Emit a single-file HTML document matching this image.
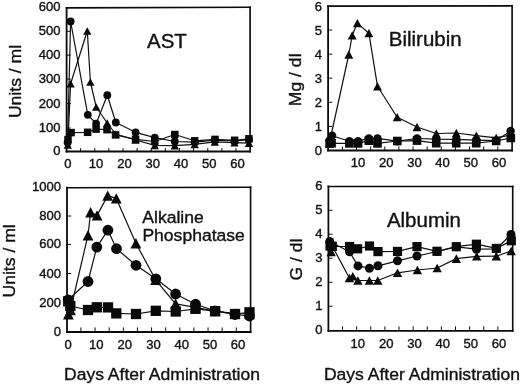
<!DOCTYPE html>
<html lang="en">
<head>
<meta charset="utf-8">
<title>Liver function tests after administration</title>
<style>
html,body{margin:0;padding:0;background:#fff;}
body{width:520px;height:385px;overflow:hidden;}
svg{display:block;}
svg text{font-family:"Liberation Sans", sans-serif;fill:#111;stroke:#111;stroke-width:0.36px;}
</style>
</head>
<body>
<svg width="520" height="385" viewBox="0 0 520 385">
<rect x="0" y="0" width="520" height="385" fill="#fff"/>
<line x1="80.62" y1="151.55" x2="80.62" y2="148.05" stroke="#111" stroke-width="1.0"/>
<line x1="94.75" y1="151.55" x2="94.75" y2="148.05" stroke="#111" stroke-width="1.0"/>
<line x1="108.88" y1="151.55" x2="108.88" y2="148.05" stroke="#111" stroke-width="1.0"/>
<line x1="123.00" y1="151.55" x2="123.00" y2="148.05" stroke="#111" stroke-width="1.0"/>
<line x1="137.12" y1="151.55" x2="137.12" y2="148.05" stroke="#111" stroke-width="1.0"/>
<line x1="151.25" y1="151.55" x2="151.25" y2="148.05" stroke="#111" stroke-width="1.0"/>
<line x1="165.38" y1="151.55" x2="165.38" y2="148.05" stroke="#111" stroke-width="1.0"/>
<line x1="179.50" y1="151.55" x2="179.50" y2="148.05" stroke="#111" stroke-width="1.0"/>
<line x1="193.62" y1="151.55" x2="193.62" y2="148.05" stroke="#111" stroke-width="1.0"/>
<line x1="207.75" y1="151.55" x2="207.75" y2="148.05" stroke="#111" stroke-width="1.0"/>
<line x1="221.88" y1="151.55" x2="221.88" y2="148.05" stroke="#111" stroke-width="1.0"/>
<line x1="236.00" y1="151.55" x2="236.00" y2="148.05" stroke="#111" stroke-width="1.0"/>
<line x1="66.60" y1="31.30" x2="70.80" y2="31.30" stroke="#111" stroke-width="1.0"/>
<line x1="66.60" y1="55.10" x2="70.80" y2="55.10" stroke="#111" stroke-width="1.0"/>
<line x1="66.60" y1="79.10" x2="70.80" y2="79.10" stroke="#111" stroke-width="1.0"/>
<line x1="66.60" y1="103.50" x2="70.80" y2="103.50" stroke="#111" stroke-width="1.0"/>
<line x1="66.60" y1="128.00" x2="70.80" y2="128.00" stroke="#111" stroke-width="1.0"/>
<polyline fill="none" stroke="#111" stroke-width="1.20" stroke-linejoin="round" points="67.80,145.00 70.60,83.70 87.30,31.00 90.40,82.00 96.20,107.00 107.20,123.00 115.70,134.00 135.60,140.00 154.80,145.40 174.80,145.60 194.70,144.40 214.80,141.90 234.50,142.60 249.00,143.10"/>
<polyline fill="none" stroke="#111" stroke-width="1.20" stroke-linejoin="round" points="67.60,142.50 70.60,21.50 87.80,114.80 96.10,123.70 107.30,95.20 115.80,122.50 135.60,132.30 154.80,137.70 174.80,141.50 194.70,142.20 214.80,140.20 234.50,140.90 249.00,139.60"/>
<polyline fill="none" stroke="#111" stroke-width="1.20" stroke-linejoin="round" points="68.00,139.60 71.10,132.60 87.60,132.30 96.10,129.10 107.00,129.70 115.60,134.90 135.60,139.30 154.80,141.50 174.80,134.50 194.70,140.80 215.00,139.40 234.60,140.30 248.90,138.80"/>
<g fill="#0a0a0a">
<path d="M67.80 141.20L71.95 148.80L63.65 148.80Z"/>
<path d="M70.60 79.90L74.75 87.50L66.45 87.50Z"/>
<path d="M87.30 27.20L91.45 34.80L83.15 34.80Z"/>
<path d="M90.40 78.20L94.55 85.80L86.25 85.80Z"/>
<path d="M96.20 103.20L100.35 110.80L92.05 110.80Z"/>
<path d="M107.20 119.20L111.35 126.80L103.05 126.80Z"/>
<path d="M115.70 130.20L119.85 137.80L111.55 137.80Z"/>
<path d="M135.60 136.20L139.75 143.80L131.45 143.80Z"/>
<path d="M154.80 141.60L158.95 149.20L150.65 149.20Z"/>
<path d="M174.80 141.80L178.95 149.40L170.65 149.40Z"/>
<path d="M194.70 140.60L198.85 148.20L190.55 148.20Z"/>
<path d="M214.80 138.10L218.95 145.70L210.65 145.70Z"/>
<path d="M234.50 138.80L238.65 146.40L230.35 146.40Z"/>
<path d="M249.00 139.30L253.15 146.90L244.85 146.90Z"/>
<circle cx="67.60" cy="142.50" r="3.90"/>
<circle cx="70.60" cy="21.50" r="3.90"/>
<circle cx="87.80" cy="114.80" r="3.90"/>
<circle cx="96.10" cy="123.70" r="3.90"/>
<circle cx="107.30" cy="95.20" r="3.90"/>
<circle cx="115.80" cy="122.50" r="3.90"/>
<circle cx="135.60" cy="132.30" r="3.90"/>
<circle cx="154.80" cy="137.70" r="3.90"/>
<circle cx="174.80" cy="141.50" r="3.90"/>
<circle cx="194.70" cy="142.20" r="3.90"/>
<circle cx="214.80" cy="140.20" r="3.90"/>
<circle cx="234.50" cy="140.90" r="3.90"/>
<circle cx="249.00" cy="139.60" r="3.90"/>
<rect x="64.25" y="135.85" width="7.50" height="7.50"/>
<rect x="67.35" y="128.85" width="7.50" height="7.50"/>
<rect x="83.85" y="128.55" width="7.50" height="7.50"/>
<rect x="92.35" y="125.35" width="7.50" height="7.50"/>
<rect x="103.25" y="125.95" width="7.50" height="7.50"/>
<rect x="111.85" y="131.15" width="7.50" height="7.50"/>
<rect x="131.85" y="135.55" width="7.50" height="7.50"/>
<rect x="151.05" y="137.75" width="7.50" height="7.50"/>
<rect x="171.05" y="130.75" width="7.50" height="7.50"/>
<rect x="190.95" y="137.05" width="7.50" height="7.50"/>
<rect x="211.25" y="135.65" width="7.50" height="7.50"/>
<rect x="230.85" y="136.55" width="7.50" height="7.50"/>
<rect x="245.15" y="135.05" width="7.50" height="7.50"/>
</g>
<g stroke="#0a0a0a" stroke-linecap="square" fill="none">
<line x1="66.60" y1="7.90" x2="250.10" y2="7.30" stroke-width="1.65"/>
<line x1="250.10" y1="7.30" x2="250.10" y2="151.55" stroke-width="1.65"/>
<line x1="66.60" y1="7.90" x2="66.60" y2="151.55" stroke-width="1.8"/>
<line x1="66.60" y1="151.55" x2="250.10" y2="151.55" stroke-width="1.95"/>
</g>
<text transform="translate(60.60 11.20) scale(1.045 1)" font-size="12.5" text-anchor="end">600</text>
<text transform="translate(60.60 35.30) scale(1.045 1)" font-size="12.5" text-anchor="end">500</text>
<text transform="translate(60.60 59.10) scale(1.045 1)" font-size="12.5" text-anchor="end">400</text>
<text transform="translate(60.60 83.10) scale(1.045 1)" font-size="12.5" text-anchor="end">300</text>
<text transform="translate(60.60 107.50) scale(1.045 1)" font-size="12.5" text-anchor="end">200</text>
<text transform="translate(60.60 132.00) scale(1.045 1)" font-size="12.5" text-anchor="end">100</text>
<text transform="translate(60.60 155.20) scale(1.045 1)" font-size="12.5" text-anchor="end">0</text>
<text transform="translate(67.90 168.20) scale(1.045 1)" font-size="12.5" text-anchor="middle">0</text>
<text transform="translate(96.00 168.20) scale(1.045 1)" font-size="12.5" text-anchor="middle">10</text>
<text transform="translate(124.40 168.20) scale(1.045 1)" font-size="12.5" text-anchor="middle">20</text>
<text transform="translate(152.70 168.20) scale(1.045 1)" font-size="12.5" text-anchor="middle">30</text>
<text transform="translate(181.00 168.20) scale(1.045 1)" font-size="12.5" text-anchor="middle">40</text>
<text transform="translate(209.30 168.20) scale(1.045 1)" font-size="12.5" text-anchor="middle">50</text>
<text transform="translate(237.60 168.20) scale(1.045 1)" font-size="12.5" text-anchor="middle">60</text>
<line x1="342.43" y1="150.40" x2="342.43" y2="146.40" stroke="#111" stroke-width="1.0"/>
<line x1="356.55" y1="150.40" x2="356.55" y2="146.40" stroke="#111" stroke-width="1.0"/>
<line x1="370.68" y1="150.40" x2="370.68" y2="146.40" stroke="#111" stroke-width="1.0"/>
<line x1="384.80" y1="150.40" x2="384.80" y2="146.40" stroke="#111" stroke-width="1.0"/>
<line x1="398.93" y1="150.40" x2="398.93" y2="146.40" stroke="#111" stroke-width="1.0"/>
<line x1="413.05" y1="150.40" x2="413.05" y2="146.40" stroke="#111" stroke-width="1.0"/>
<line x1="427.18" y1="150.40" x2="427.18" y2="146.40" stroke="#111" stroke-width="1.0"/>
<line x1="441.30" y1="150.40" x2="441.30" y2="146.40" stroke="#111" stroke-width="1.0"/>
<line x1="455.43" y1="150.40" x2="455.43" y2="146.40" stroke="#111" stroke-width="1.0"/>
<line x1="469.55" y1="150.40" x2="469.55" y2="146.40" stroke="#111" stroke-width="1.0"/>
<line x1="483.68" y1="150.40" x2="483.68" y2="146.40" stroke="#111" stroke-width="1.0"/>
<line x1="497.80" y1="150.40" x2="497.80" y2="146.40" stroke="#111" stroke-width="1.0"/>
<line x1="328.10" y1="30.00" x2="332.30" y2="30.00" stroke="#111" stroke-width="1.0"/>
<line x1="328.10" y1="54.20" x2="332.30" y2="54.20" stroke="#111" stroke-width="1.0"/>
<line x1="328.10" y1="78.20" x2="332.30" y2="78.20" stroke="#111" stroke-width="1.0"/>
<line x1="328.10" y1="102.30" x2="332.30" y2="102.30" stroke="#111" stroke-width="1.0"/>
<line x1="328.10" y1="126.40" x2="332.30" y2="126.40" stroke="#111" stroke-width="1.0"/>
<polyline fill="none" stroke="#111" stroke-width="1.20" stroke-linejoin="round" points="329.30,143.50 348.80,54.50 352.20,35.30 357.40,23.10 368.90,33.20 377.50,86.30 397.20,117.20 417.00,127.00 436.30,133.50 456.30,133.00 476.30,135.60 496.20,137.80 510.80,135.00"/>
<polyline fill="none" stroke="#111" stroke-width="1.20" stroke-linejoin="round" points="329.60,140.50 332.10,135.80 349.40,141.20 358.10,141.20 368.80,138.40 377.50,138.40 397.30,141.20 417.00,138.50 436.30,139.20 456.30,139.40 476.30,140.20 496.20,140.60 510.60,131.00"/>
<polyline fill="none" stroke="#111" stroke-width="1.20" stroke-linejoin="round" points="329.60,143.30 331.60,143.30 349.40,143.40 358.10,143.40 368.80,140.70 377.50,143.40 397.30,141.00 417.00,140.60 436.20,143.20 456.20,143.20 476.20,143.20 496.10,141.00 510.80,138.00"/>
<g fill="#0a0a0a">
<path d="M329.30 139.35L333.75 147.65L324.85 147.65Z"/>
<path d="M348.80 50.35L353.25 58.65L344.35 58.65Z"/>
<path d="M352.20 31.15L356.65 39.45L347.75 39.45Z"/>
<path d="M357.40 18.95L361.85 27.25L352.95 27.25Z"/>
<path d="M368.90 29.05L373.35 37.35L364.45 37.35Z"/>
<path d="M377.50 82.15L381.95 90.45L373.05 90.45Z"/>
<path d="M397.20 113.05L401.65 121.35L392.75 121.35Z"/>
<path d="M417.00 122.85L421.45 131.15L412.55 131.15Z"/>
<path d="M436.30 129.35L440.75 137.65L431.85 137.65Z"/>
<path d="M456.30 128.85L460.75 137.15L451.85 137.15Z"/>
<path d="M476.30 131.45L480.75 139.75L471.85 139.75Z"/>
<path d="M496.20 133.65L500.65 141.95L491.75 141.95Z"/>
<path d="M510.80 130.85L515.25 139.15L506.35 139.15Z"/>
<circle cx="329.60" cy="140.50" r="4.20"/>
<circle cx="332.10" cy="135.80" r="4.20"/>
<circle cx="349.40" cy="141.20" r="4.20"/>
<circle cx="358.10" cy="141.20" r="4.20"/>
<circle cx="368.80" cy="138.40" r="4.20"/>
<circle cx="377.50" cy="138.40" r="4.20"/>
<circle cx="397.30" cy="141.20" r="4.20"/>
<circle cx="417.00" cy="138.50" r="4.20"/>
<circle cx="436.30" cy="139.20" r="4.20"/>
<circle cx="456.30" cy="139.40" r="4.20"/>
<circle cx="476.30" cy="140.20" r="4.20"/>
<circle cx="496.20" cy="140.60" r="4.20"/>
<circle cx="510.60" cy="131.00" r="4.20"/>
<rect x="325.30" y="139.00" width="8.60" height="8.60"/>
<rect x="327.30" y="139.00" width="8.60" height="8.60"/>
<rect x="345.10" y="139.10" width="8.60" height="8.60"/>
<rect x="353.80" y="139.10" width="8.60" height="8.60"/>
<rect x="364.50" y="136.40" width="8.60" height="8.60"/>
<rect x="373.20" y="139.10" width="8.60" height="8.60"/>
<rect x="393.00" y="136.70" width="8.60" height="8.60"/>
<rect x="412.70" y="136.30" width="8.60" height="8.60"/>
<rect x="431.90" y="138.90" width="8.60" height="8.60"/>
<rect x="451.90" y="138.90" width="8.60" height="8.60"/>
<rect x="471.90" y="138.90" width="8.60" height="8.60"/>
<rect x="491.80" y="136.70" width="8.60" height="8.60"/>
<rect x="506.50" y="133.70" width="8.60" height="8.60"/>
</g>
<g stroke="#0a0a0a" stroke-linecap="square" fill="none">
<line x1="328.10" y1="6.10" x2="512.10" y2="5.80" stroke-width="1.65"/>
<line x1="512.10" y1="5.80" x2="512.10" y2="150.40" stroke-width="1.65"/>
<line x1="328.10" y1="6.10" x2="328.10" y2="150.40" stroke-width="1.8"/>
<line x1="328.10" y1="150.40" x2="512.10" y2="150.40" stroke-width="1.95"/>
</g>
<text transform="translate(322.10 10.70) scale(1.045 1)" font-size="12.5" text-anchor="end">6</text>
<text transform="translate(322.10 34.70) scale(1.045 1)" font-size="12.5" text-anchor="end">5</text>
<text transform="translate(322.10 58.90) scale(1.045 1)" font-size="12.5" text-anchor="end">4</text>
<text transform="translate(322.10 82.90) scale(1.045 1)" font-size="12.5" text-anchor="end">3</text>
<text transform="translate(322.10 107.00) scale(1.045 1)" font-size="12.5" text-anchor="end">2</text>
<text transform="translate(322.10 131.10) scale(1.045 1)" font-size="12.5" text-anchor="end">1</text>
<text transform="translate(322.10 154.70) scale(1.045 1)" font-size="12.5" text-anchor="end">0</text>
<text transform="translate(358.00 166.90) scale(1.045 1)" font-size="12.5" text-anchor="middle">10</text>
<text transform="translate(386.30 166.90) scale(1.045 1)" font-size="12.5" text-anchor="middle">20</text>
<text transform="translate(414.40 166.90) scale(1.045 1)" font-size="12.5" text-anchor="middle">30</text>
<text transform="translate(442.60 166.90) scale(1.045 1)" font-size="12.5" text-anchor="middle">40</text>
<text transform="translate(470.70 166.90) scale(1.045 1)" font-size="12.5" text-anchor="middle">50</text>
<text transform="translate(498.90 166.90) scale(1.045 1)" font-size="12.5" text-anchor="middle">60</text>
<line x1="80.92" y1="332.00" x2="80.92" y2="327.40" stroke="#111" stroke-width="1.0"/>
<line x1="95.05" y1="332.00" x2="95.05" y2="327.40" stroke="#111" stroke-width="1.0"/>
<line x1="109.17" y1="332.00" x2="109.17" y2="327.40" stroke="#111" stroke-width="1.0"/>
<line x1="123.30" y1="332.00" x2="123.30" y2="327.40" stroke="#111" stroke-width="1.0"/>
<line x1="137.43" y1="332.00" x2="137.43" y2="327.40" stroke="#111" stroke-width="1.0"/>
<line x1="151.55" y1="332.00" x2="151.55" y2="327.40" stroke="#111" stroke-width="1.0"/>
<line x1="165.68" y1="332.00" x2="165.68" y2="327.40" stroke="#111" stroke-width="1.0"/>
<line x1="179.80" y1="332.00" x2="179.80" y2="327.40" stroke="#111" stroke-width="1.0"/>
<line x1="193.93" y1="332.00" x2="193.93" y2="327.40" stroke="#111" stroke-width="1.0"/>
<line x1="208.05" y1="332.00" x2="208.05" y2="327.40" stroke="#111" stroke-width="1.0"/>
<line x1="222.18" y1="332.00" x2="222.18" y2="327.40" stroke="#111" stroke-width="1.0"/>
<line x1="236.30" y1="332.00" x2="236.30" y2="327.40" stroke="#111" stroke-width="1.0"/>
<line x1="67.00" y1="216.00" x2="71.20" y2="216.00" stroke="#111" stroke-width="1.0"/>
<line x1="67.00" y1="244.40" x2="71.20" y2="244.40" stroke="#111" stroke-width="1.0"/>
<line x1="67.00" y1="273.50" x2="71.20" y2="273.50" stroke="#111" stroke-width="1.0"/>
<line x1="67.00" y1="302.60" x2="71.20" y2="302.60" stroke="#111" stroke-width="1.0"/>
<polyline fill="none" stroke="#111" stroke-width="1.20" stroke-linejoin="round" points="68.40,314.20 70.50,310.00 88.00,235.20 90.60,212.20 97.10,215.40 107.70,195.60 116.30,198.40 135.90,243.30 155.60,279.80 175.60,303.80 195.50,307.30 215.00,311.00 235.00,313.50 249.50,314.00"/>
<polyline fill="none" stroke="#111" stroke-width="1.20" stroke-linejoin="round" points="68.30,299.80 88.00,281.50 96.80,247.10 107.90,230.20 116.50,248.70 136.00,265.30 155.80,278.80 175.60,294.00 195.50,304.20 215.00,310.80 235.00,314.50 249.50,316.00"/>
<polyline fill="none" stroke="#111" stroke-width="1.20" stroke-linejoin="round" points="68.20,301.30 70.30,306.00 88.00,310.00 96.80,307.30 108.00,307.40 116.30,313.40 136.00,314.00 155.80,310.80 175.70,311.50 195.50,308.80 215.20,311.20 235.00,314.00 249.50,312.30"/>
<g fill="#0a0a0a">
<path d="M68.40 309.00L73.80 319.40L63.00 319.40Z"/>
<path d="M70.50 304.80L75.90 315.20L65.10 315.20Z"/>
<path d="M88.00 230.00L93.40 240.40L82.60 240.40Z"/>
<path d="M90.60 207.00L96.00 217.40L85.20 217.40Z"/>
<path d="M97.10 210.20L102.50 220.60L91.70 220.60Z"/>
<path d="M107.70 190.40L113.10 200.80L102.30 200.80Z"/>
<path d="M116.30 193.20L121.70 203.60L110.90 203.60Z"/>
<path d="M135.90 238.10L141.30 248.50L130.50 248.50Z"/>
<path d="M155.60 274.60L161.00 285.00L150.20 285.00Z"/>
<path d="M175.60 298.60L181.00 309.00L170.20 309.00Z"/>
<path d="M195.50 302.10L200.90 312.50L190.10 312.50Z"/>
<path d="M215.00 305.80L220.40 316.20L209.60 316.20Z"/>
<path d="M235.00 308.30L240.40 318.70L229.60 318.70Z"/>
<path d="M249.50 308.80L254.90 319.20L244.10 319.20Z"/>
<circle cx="68.30" cy="299.80" r="5.40"/>
<circle cx="88.00" cy="281.50" r="5.40"/>
<circle cx="96.80" cy="247.10" r="5.40"/>
<circle cx="107.90" cy="230.20" r="5.40"/>
<circle cx="116.50" cy="248.70" r="5.40"/>
<circle cx="136.00" cy="265.30" r="5.40"/>
<circle cx="155.80" cy="278.80" r="5.40"/>
<circle cx="175.60" cy="294.00" r="5.40"/>
<circle cx="195.50" cy="304.20" r="5.40"/>
<circle cx="215.00" cy="310.80" r="5.40"/>
<circle cx="235.00" cy="314.50" r="5.40"/>
<circle cx="249.50" cy="316.00" r="5.40"/>
<rect x="63.05" y="296.15" width="10.30" height="10.30"/>
<rect x="65.15" y="300.85" width="10.30" height="10.30"/>
<rect x="82.85" y="304.85" width="10.30" height="10.30"/>
<rect x="91.65" y="302.15" width="10.30" height="10.30"/>
<rect x="102.85" y="302.25" width="10.30" height="10.30"/>
<rect x="111.15" y="308.25" width="10.30" height="10.30"/>
<rect x="130.85" y="308.85" width="10.30" height="10.30"/>
<rect x="150.65" y="305.65" width="10.30" height="10.30"/>
<rect x="170.55" y="306.35" width="10.30" height="10.30"/>
<rect x="190.35" y="303.65" width="10.30" height="10.30"/>
<rect x="210.05" y="306.05" width="10.30" height="10.30"/>
<rect x="229.85" y="308.85" width="10.30" height="10.30"/>
<rect x="244.35" y="307.15" width="10.30" height="10.30"/>
</g>
<g stroke="#0a0a0a" stroke-linecap="square" fill="none">
<line x1="67.00" y1="187.70" x2="250.60" y2="187.30" stroke-width="1.65"/>
<line x1="250.60" y1="187.30" x2="250.60" y2="332.00" stroke-width="1.65"/>
<line x1="67.00" y1="187.70" x2="67.00" y2="332.00" stroke-width="1.8"/>
<line x1="67.00" y1="332.00" x2="250.60" y2="332.00" stroke-width="1.95"/>
</g>
<text transform="translate(61.00 191.30) scale(1.045 1)" font-size="12.5" text-anchor="end">1000</text>
<text transform="translate(61.00 220.00) scale(1.045 1)" font-size="12.5" text-anchor="end">800</text>
<text transform="translate(61.00 248.40) scale(1.045 1)" font-size="12.5" text-anchor="end">600</text>
<text transform="translate(61.00 277.50) scale(1.045 1)" font-size="12.5" text-anchor="end">400</text>
<text transform="translate(61.00 306.60) scale(1.045 1)" font-size="12.5" text-anchor="end">200</text>
<text transform="translate(61.00 335.80) scale(1.045 1)" font-size="12.5" text-anchor="end">0</text>
<text transform="translate(68.20 348.70) scale(1.045 1)" font-size="12.5" text-anchor="middle">0</text>
<text transform="translate(96.30 348.70) scale(1.045 1)" font-size="12.5" text-anchor="middle">10</text>
<text transform="translate(124.70 348.70) scale(1.045 1)" font-size="12.5" text-anchor="middle">20</text>
<text transform="translate(153.60 348.70) scale(1.045 1)" font-size="12.5" text-anchor="middle">30</text>
<text transform="translate(181.80 348.70) scale(1.045 1)" font-size="12.5" text-anchor="middle">40</text>
<text transform="translate(210.00 348.70) scale(1.045 1)" font-size="12.5" text-anchor="middle">50</text>
<text transform="translate(238.00 348.70) scale(1.045 1)" font-size="12.5" text-anchor="middle">60</text>
<line x1="342.52" y1="330.90" x2="342.52" y2="326.30" stroke="#111" stroke-width="1.0"/>
<line x1="356.65" y1="330.90" x2="356.65" y2="326.30" stroke="#111" stroke-width="1.0"/>
<line x1="370.77" y1="330.90" x2="370.77" y2="326.30" stroke="#111" stroke-width="1.0"/>
<line x1="384.90" y1="330.90" x2="384.90" y2="326.30" stroke="#111" stroke-width="1.0"/>
<line x1="399.02" y1="330.90" x2="399.02" y2="326.30" stroke="#111" stroke-width="1.0"/>
<line x1="413.15" y1="330.90" x2="413.15" y2="326.30" stroke="#111" stroke-width="1.0"/>
<line x1="427.27" y1="330.90" x2="427.27" y2="326.30" stroke="#111" stroke-width="1.0"/>
<line x1="441.40" y1="330.90" x2="441.40" y2="326.30" stroke="#111" stroke-width="1.0"/>
<line x1="455.52" y1="330.90" x2="455.52" y2="326.30" stroke="#111" stroke-width="1.0"/>
<line x1="469.65" y1="330.90" x2="469.65" y2="326.30" stroke="#111" stroke-width="1.0"/>
<line x1="483.77" y1="330.90" x2="483.77" y2="326.30" stroke="#111" stroke-width="1.0"/>
<line x1="497.90" y1="330.90" x2="497.90" y2="326.30" stroke="#111" stroke-width="1.0"/>
<line x1="328.40" y1="210.30" x2="332.60" y2="210.30" stroke="#111" stroke-width="1.0"/>
<line x1="328.40" y1="234.20" x2="332.60" y2="234.20" stroke="#111" stroke-width="1.0"/>
<line x1="328.40" y1="258.20" x2="332.60" y2="258.20" stroke="#111" stroke-width="1.0"/>
<line x1="328.40" y1="282.30" x2="332.60" y2="282.30" stroke="#111" stroke-width="1.0"/>
<line x1="328.40" y1="306.20" x2="332.60" y2="306.20" stroke="#111" stroke-width="1.0"/>
<polyline fill="none" stroke="#111" stroke-width="1.20" stroke-linejoin="round" points="331.20,252.00 332.50,246.60 349.40,278.00 352.80,276.20 357.90,280.50 369.40,280.50 377.80,280.50 397.50,272.80 417.40,270.00 437.20,268.00 456.30,258.60 476.70,256.30 496.30,256.20 511.20,251.00"/>
<polyline fill="none" stroke="#111" stroke-width="1.20" stroke-linejoin="round" points="329.80,241.50 349.50,251.80 358.00,265.90 369.40,268.20 378.00,265.80 397.50,260.80 417.00,256.00 437.00,251.50 456.30,246.80 476.50,249.20 496.30,249.00 511.00,234.40"/>
<polyline fill="none" stroke="#111" stroke-width="1.20" stroke-linejoin="round" points="330.00,246.00 332.30,246.30 349.60,246.50 357.60,248.80 369.50,246.00 378.00,251.60 397.50,251.40 417.00,246.60 437.00,251.30 456.30,246.70 476.40,244.20 496.30,248.40 511.30,240.80"/>
<g fill="#0a0a0a">
<path d="M331.20 247.70L335.90 256.30L326.50 256.30Z"/>
<path d="M332.50 242.30L337.20 250.90L327.80 250.90Z"/>
<path d="M349.40 273.70L354.10 282.30L344.70 282.30Z"/>
<path d="M352.80 271.90L357.50 280.50L348.10 280.50Z"/>
<path d="M357.90 276.20L362.60 284.80L353.20 284.80Z"/>
<path d="M369.40 276.20L374.10 284.80L364.70 284.80Z"/>
<path d="M377.80 276.20L382.50 284.80L373.10 284.80Z"/>
<path d="M397.50 268.50L402.20 277.10L392.80 277.10Z"/>
<path d="M417.40 265.70L422.10 274.30L412.70 274.30Z"/>
<path d="M437.20 263.70L441.90 272.30L432.50 272.30Z"/>
<path d="M456.30 254.30L461.00 262.90L451.60 262.90Z"/>
<path d="M476.70 252.00L481.40 260.60L472.00 260.60Z"/>
<path d="M496.30 251.90L501.00 260.50L491.60 260.50Z"/>
<path d="M511.20 246.70L515.90 255.30L506.50 255.30Z"/>
<circle cx="329.80" cy="241.50" r="4.50"/>
<circle cx="349.50" cy="251.80" r="4.50"/>
<circle cx="358.00" cy="265.90" r="4.50"/>
<circle cx="369.40" cy="268.20" r="4.50"/>
<circle cx="378.00" cy="265.80" r="4.50"/>
<circle cx="397.50" cy="260.80" r="4.50"/>
<circle cx="417.00" cy="256.00" r="4.50"/>
<circle cx="437.00" cy="251.50" r="4.50"/>
<circle cx="456.30" cy="246.80" r="4.50"/>
<circle cx="476.50" cy="249.20" r="4.50"/>
<circle cx="496.30" cy="249.00" r="4.50"/>
<circle cx="511.00" cy="234.40" r="4.50"/>
<rect x="325.40" y="241.40" width="9.20" height="9.20"/>
<rect x="327.70" y="241.70" width="9.20" height="9.20"/>
<rect x="345.00" y="241.90" width="9.20" height="9.20"/>
<rect x="353.00" y="244.20" width="9.20" height="9.20"/>
<rect x="364.90" y="241.40" width="9.20" height="9.20"/>
<rect x="373.40" y="247.00" width="9.20" height="9.20"/>
<rect x="392.90" y="246.80" width="9.20" height="9.20"/>
<rect x="412.40" y="242.00" width="9.20" height="9.20"/>
<rect x="432.40" y="246.70" width="9.20" height="9.20"/>
<rect x="451.70" y="242.10" width="9.20" height="9.20"/>
<rect x="471.80" y="239.60" width="9.20" height="9.20"/>
<rect x="491.70" y="243.80" width="9.20" height="9.20"/>
<rect x="506.70" y="236.20" width="9.20" height="9.20"/>
</g>
<g stroke="#0a0a0a" stroke-linecap="square" fill="none">
<line x1="328.40" y1="186.50" x2="512.70" y2="186.50" stroke-width="1.7"/>
<line x1="512.70" y1="186.50" x2="512.70" y2="330.90" stroke-width="1.6"/>
<line x1="328.40" y1="186.50" x2="328.40" y2="330.90" stroke-width="1.75"/>
<line x1="328.40" y1="330.90" x2="512.70" y2="330.90" stroke-width="1.7"/>
</g>
<text transform="translate(322.40 190.30) scale(1.045 1)" font-size="12.5" text-anchor="end">6</text>
<text transform="translate(322.40 214.10) scale(1.045 1)" font-size="12.5" text-anchor="end">5</text>
<text transform="translate(322.40 238.00) scale(1.045 1)" font-size="12.5" text-anchor="end">4</text>
<text transform="translate(322.40 262.00) scale(1.045 1)" font-size="12.5" text-anchor="end">3</text>
<text transform="translate(322.40 286.10) scale(1.045 1)" font-size="12.5" text-anchor="end">2</text>
<text transform="translate(322.40 310.00) scale(1.045 1)" font-size="12.5" text-anchor="end">1</text>
<text transform="translate(322.40 334.30) scale(1.045 1)" font-size="12.5" text-anchor="end">0</text>
<text transform="translate(357.80 347.60) scale(1.045 1)" font-size="12.5" text-anchor="middle">10</text>
<text transform="translate(386.20 347.60) scale(1.045 1)" font-size="12.5" text-anchor="middle">20</text>
<text transform="translate(414.40 347.60) scale(1.045 1)" font-size="12.5" text-anchor="middle">30</text>
<text transform="translate(442.70 347.60) scale(1.045 1)" font-size="12.5" text-anchor="middle">40</text>
<text transform="translate(470.80 347.60) scale(1.045 1)" font-size="12.5" text-anchor="middle">50</text>
<text transform="translate(499.00 347.60) scale(1.045 1)" font-size="12.5" text-anchor="middle">60</text>
<text transform="translate(166.90 47.60) scale(1.045 1)" font-size="19.6" text-anchor="middle">AST</text>
<text transform="translate(425.20 46.00) scale(1.045 1)" font-size="19.6" text-anchor="middle">Bilirubin</text>
<text transform="translate(142.30 223.00) scale(1.045 1)" font-size="16.8" text-anchor="start">Alkaline</text>
<text transform="translate(142.40 240.60) scale(1.045 1)" font-size="16.8" text-anchor="start">Phosphatase</text>
<text transform="translate(423.90 226.80) scale(1.045 1)" font-size="19.6" text-anchor="middle">Albumin</text>
<text transform="translate(162.00 380.00) scale(1.045 1)" font-size="16.8" text-anchor="middle">Days After Administration</text>
<text transform="translate(421.90 379.80) scale(1.045 1)" font-size="16.8" text-anchor="middle">Days After Administration</text>
<text transform="translate(21.30 81.50) rotate(-90) scale(1.045 1)" font-size="16.8" text-anchor="middle">Units / ml</text>
<text transform="translate(14.90 260.90) rotate(-90) scale(1.045 1)" font-size="16.8" text-anchor="middle">Units / ml</text>
<text transform="translate(300.50 79.80) rotate(-90) scale(1.045 1)" font-size="16.8" text-anchor="middle">Mg / dl</text>
<text transform="translate(302.00 259.50) rotate(-90) scale(1.045 1)" font-size="16.8" text-anchor="middle">G / dl</text>
</svg>
</body>
</html>
